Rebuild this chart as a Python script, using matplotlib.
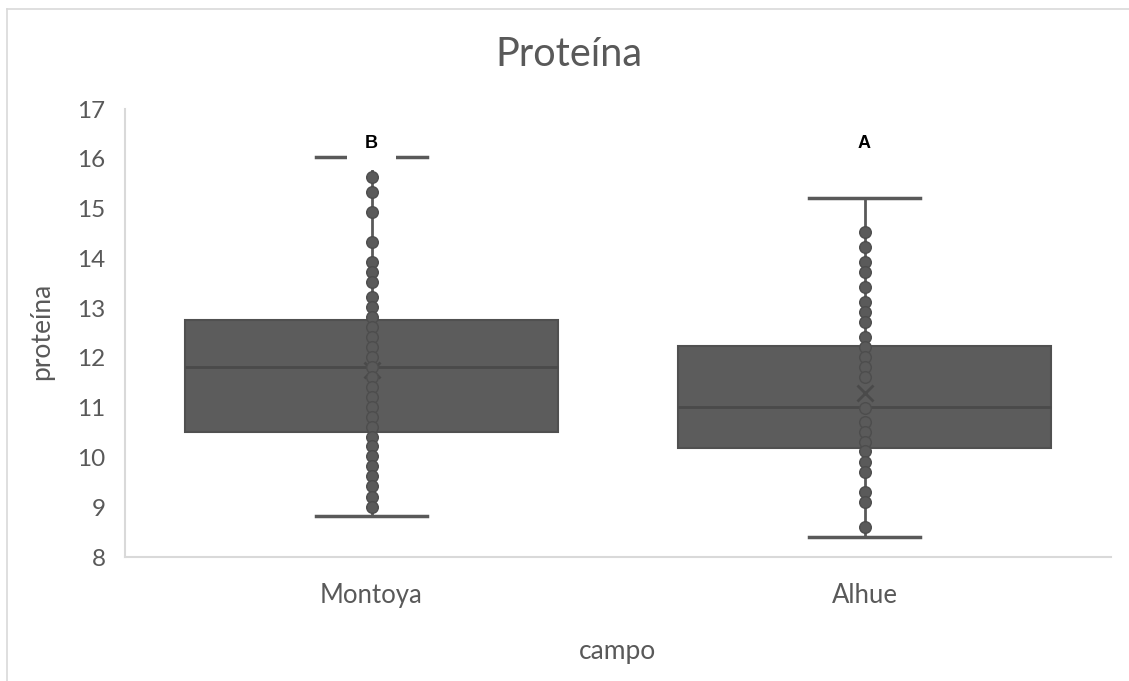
import matplotlib.pyplot as plt
from matplotlib.lines import Line2D

campos = ['Montoya', 'Alhue']
letras = ['B', 'A']

# box statistics
q1 = [10.51, 10.19]
mediana = [11.82, 11.02]
q3 = [12.76, 12.24]
media = [11.75, 11.29]
bigote_inf = [8.82, 8.41]
bigote_sup = [16.03, 15.22]

# inner points
puntos_montoya = [15.64, 15.34, 14.93, 14.32, 13.93, 13.73, 13.53, 13.23, 13.03, 12.83,
                  12.62, 12.42, 12.22, 12.02, 11.82, 11.62, 11.42, 11.22, 11.02, 10.82,
                  10.62, 10.42, 10.22, 10.02, 9.82, 9.62, 9.42, 9.21, 9.01]
puntos_alhue = [14.53, 14.23, 13.93, 13.73, 13.43, 13.13, 12.93, 12.73, 12.42, 12.22,
                12.02, 11.82, 11.62, 11.0, 10.72, 10.52, 10.32, 10.12, 9.91, 9.71,
                9.31, 9.11, 8.61]

gris = '#595959'
plt.rcParams['font.family'] = ['Lato', 'DejaVu Sans']

fig = plt.figure(figsize=(11.29, 6.81), dpi=100)
ax = fig.add_axes([125 / 1129, 1 - 557 / 681, (1111 - 125) / 1129, (557 - 109) / 681])

stats = []
for i, c in enumerate(campos):
    stats.append(dict(label=c, q1=q1[i], med=mediana[i], q3=q3[i], mean=media[i],
                      whislo=bigote_inf[i], whishi=bigote_sup[i], fliers=[]))

ax.bxp(stats, positions=[0, 1], widths=0.755, patch_artist=True, showmeans=True,
       boxprops=dict(facecolor='#5c5c5c', edgecolor='#505050', linewidth=1.5),
       medianprops=dict(color='#4a4a4a', linewidth=2),
       whiskerprops=dict(color=gris, linewidth=2),
       capprops=dict(color=gris, linewidth=2.5),
       capwidths=0.225,
       meanprops=dict(marker='x', markersize=12, markeredgecolor='#4a4a4a', markeredgewidth=2))

for i, pts in enumerate([puntos_montoya, puntos_alhue]):
    ax.scatter([i] * len(pts), pts, s=70, color='#5a5a5a', edgecolors='#4d4d4d',
               linewidths=1, zorder=4)

for i, l in enumerate(letras):
    ax.text(i, 16.31, l, ha='center', va='center', fontsize=13, fontweight='bold',
            family='Liberation Sans', color='black', zorder=6,
            bbox=dict(boxstyle='square,pad=1.0', facecolor='white', edgecolor='none') if i == 0 else None)

ax.set_xlim(-0.5, 1.5)
ax.set_ylim(8, 17)
ax.set_yticks(range(8, 18))
ax.set_xticks([0, 1])
ax.set_xticklabels(campos)
ax.tick_params(length=0, colors=gris)
ax.tick_params(axis='y', pad=14, labelsize=17.5)
ax.tick_params(axis='x', pad=19, labelsize=18.5)
for s in ['top', 'right']:
    ax.spines[s].set_visible(False)
for s in ['left', 'bottom']:
    ax.spines[s].set_color('#d9d9d9')
    ax.spines[s].set_linewidth(1.5)

fig.text(0.504, 1 - 54 / 681, 'Proteína', ha='center', va='center', fontsize=28.5, color=gris)
fig.text(42 / 1129, 1 - 331 / 681, 'proteína', ha='center', va='center', rotation=90,
         fontsize=19, color=gris)
fig.text(618 / 1129, 1 - 652 / 681, 'campo', ha='center', va='center', fontsize=19, color=gris)

# chart border (only top and left fall inside the picture)
fig.add_artist(Line2D([6.5 / 1129, 1], [1 - 9 / 681, 1 - 9 / 681], color='#d9d9d9', lw=1.2))
fig.add_artist(Line2D([6.5 / 1129, 6.5 / 1129], [0, 1 - 9 / 681], color='#d9d9d9', lw=1.2))

fig.savefig('out.png', dpi=100)
